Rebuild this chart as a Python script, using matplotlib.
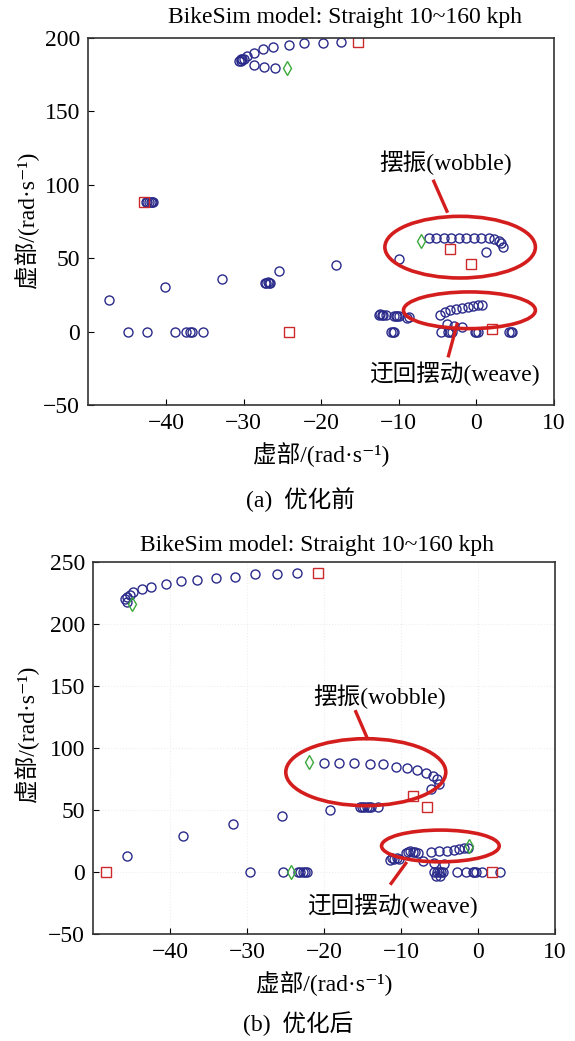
import matplotlib.pyplot as plt
from matplotlib.patches import Ellipse

plt.rcParams["font.family"] = ["Liberation Serif", "Noto Sans CJK SC", "DejaVu Sans"]

# ---------------- (a) before optimisation ----------------
a_circ_x = [-30.6, -30.4, -30.2, -30.0, -29.6, -28.7, -27.5, -26.2, -24.1, -22.2, -19.8, -17.5,
            -30.3, -28.7, -27.4, -26.0,
            -42.6, -42.4, -42.2, -42.0, -41.8, -41.7,
            -47.3, -40.2, -32.8, -27.3, -27.1, -26.9, -26.7, -26.6, -25.5, -18.1,
            -44.9, -42.5, -38.8, -37.4, -36.9, -36.6, -35.3,
            -10.0,
            -6.15, -5.16, -4.22, -3.23, -2.28, -1.29, -0.35, 0.65, 1.59, 2.32, 2.88, 3.19, 3.45, 1.2,
            -4.65, -4.0, -3.35, -2.58, -1.85, -1.12, -0.43, 0.22, 0.74,
            -3.8, -2.9, -1.85,
            -12.6, -12.4, -12.2, -12.0, -11.7, -10.6, -10.4, -10.2, -10.0, -9.0, -8.7,
            -11.0, -10.8, -10.6, -4.6, -3.6, -3.4, -3.2, -0.2, 0.0, 0.2, 4.2, 4.4, 4.6]
a_circ_y = [184.0, 186.0, 185.5, 185.6, 187.9, 190.1, 192.5, 193.6, 195.2, 196.3, 196.8, 197.3,
            184.5, 181.7, 180.3, 179.5,
            88.6, 88.6, 88.6, 88.6, 88.6, 88.6,
            21.2, 30.3, 36.0, 33.0, 33.3, 33.6, 33.3, 33.0, 41.3, 45.6,
            0, 0, 0, 0, 0, 0, 0,
            49.7,
            63.4, 63.4, 63.4, 63.4, 63.4, 63.4, 63.4, 63.4, 63.4, 63.0, 61.8, 60.0, 57.7, 54.3,
            11.0, 13.2, 14.4, 15.5, 16.2, 16.8, 17.3, 17.8, 17.8,
            5.2, 4.1, 3.4,
            11.5, 11.8, 11.2, 11.4, 11.0, 10.5, 10.8, 10.3, 10.6, 9.5, 9.8,
            0, 0, 0, 0, 0, 0, 0, 0, 0, 0, 0, 0, 0]
a_sq_x = [-15.2, -42.8, -24.2, -3.35, -0.7, 2.0]
a_sq_y = [197.3, 88.6, 0, 56.2, 45.9, 1.5]
a_dia_x = [-24.4, -7.2]
a_dia_y = [179.5, 61.8]

# ---------------- (b) after optimisation ----------------
b_circ_x = [-45.9, -45.7, -45.7, -45.3, -44.8, -43.7, -42.5, -40.6, -38.6, -36.6, -34.1, -31.6, -29.0,
            -26.2, -23.6,
            -45.6, -38.4, -31.9, -25.5,
            -29.7, -25.3, -23.4, -23.1, -22.8, -22.5, -22.2,
            -20.0, -18.1, -16.1, -14.1, -12.3, -10.7, -9.2, -7.9, -6.8, -5.9, -5.3, -5.1, -6.1,
            -19.3, -15.4, -15.1, -14.8, -14.5, -14.2, -13.9, -13.0,
            -6.1, -5.1, -4.0, -3.1, -2.5, -1.8, -1.3,
            -9.4, -9.1, -8.8, -8.5, -8.2, -7.8, -11.5, -11.2, -10.9, -10.6, -10.3,
            -7.2, -5.7, -4.4,
            -5.7, -5.4, -5.1, -4.8, -4.5, -5.5, -5.0, -2.7, -1.6, -0.7, -0.5, -0.3, 0.56, 2.9]
b_circ_y = [220.0, 218.0, 222.0, 223.4, 226.1, 228.0, 230.1, 232.3, 234.8, 235.6, 237.0, 238.3, 240.2,
            240.2, 241.0,
            12.7, 28.9, 38.4, 45.1,
            0, 0, 0, 0, 0, 0, 0,
            87.8, 87.8, 87.8, 87.0, 87.0, 84.8, 83.8, 82.2, 80.2, 77.6, 74.9, 71.3, 66.8,
            49.8, 52.4, 52.4, 52.4, 52.4, 52.4, 52.4, 52.4,
            16.0, 16.8, 17.3, 17.8, 18.4, 19.0, 19.4,
            15.5, 16.5, 17.0, 16.5, 16.0, 15.5, 10.0, 11.0, 10.5, 11.0, 10.5,
            8.7, 7.4, 6.1,
            0, 0, 0, 0, 0, -3.0, -3.0, 0, 0, 0, 0, 0, 0, 0]
b_sq_x = [-20.8, -48.4, -8.4, -6.7, 1.85]
b_sq_y = [241.0, 0, 61.3, 52.4, 0]
b_dia_x = [-45.0, -24.3, -22.0, -1.2]
b_dia_y = [216.3, 0, 88.5, 20.8]

# annotation ellipses: (centre x, centre y, width, height)
a_wobble_ell = (-2.1, 57.5, 19.4, 42.0)
a_weave_ell = (-0.9, 14.5, 17.0, 25.0)
b_wobble_ell = (-14.6, 80.5, 20.8, 54.0)
b_weave_ell = (-4.9, 21.0, 15.3, 25.6)

title = "BikeSim model: Straight 10~160 kph"
axis_label = "虚部/(rad·s\u207b\u00b9)"

navy = "#2a2a8a"
red = "#cc2a2a"
green = "#3aa83a"
ell_red = "#d41e1e"

fig = plt.figure(figsize=(5.75, 10.41), dpi=100)
ax_a = fig.add_axes([0.1539, 0.6110, 0.8096, 0.3525])
ax_b = fig.add_axes([0.1626, 0.1028, 0.8026, 0.3573])


def draw(ax, cx, cy, sx, sy, dx, dy, ylim, yticks):
    ax.plot(cx, cy, "o", ls="none", mfc="none", mec=navy, ms=6.5, mew=1.0)
    ax.plot(sx, sy, "s", ls="none", mfc="none", mec=red, ms=6.5, mew=1.0)
    ax.plot(dx, dy, "d", ls="none", mfc="none", mec=green, ms=7, mew=1.0)
    ax.set_xlim(-50, 10)
    ax.set_ylim(*ylim)
    ax.set_xticks([-40, -30, -20, -10, 0, 10])
    ax.set_xticklabels(["\u221240", "\u221230", "\u221220", "\u221210", "0", "10"])
    ax.set_yticks(yticks)
    ax.set_yticklabels([str(t).replace("-", "\u2212") for t in yticks])
    ax.tick_params(direction="in", length=4, labelsize=17, top=False, right=False, pad=6)
    for s in ax.spines.values():
        s.set_linewidth(1.2)
        s.set_color("#333333")
    ax.set_xlabel(axis_label, fontsize=17, labelpad=6)


def ellipse(ax, e):
    ax.add_patch(Ellipse((e[0], e[1]), e[2], e[3], fill=False, ec=ell_red, lw=2.6, zorder=5))


# panel (a)
draw(ax_a, a_circ_x, a_circ_y, a_sq_x, a_sq_y, a_dia_x, a_dia_y, (-50, 200), [-50, 0, 50, 100, 150, 200])
ellipse(ax_a, a_wobble_ell)
ellipse(ax_a, a_weave_ell)
ax_a.plot([-5.5, -3.8], [102.4, 82.0], color=ell_red, lw=2.4, zorder=5)
ax_a.plot([-2.5, -3.6], [5.0, -16.5], color=ell_red, lw=2.4, zorder=5)
ax_a.text(-4.0, 115, "摆振(wobble)", fontsize=17, ha="center", va="center")
ax_a.text(-2.9, -29, "迂回摆动(weave)", fontsize=17, ha="center", va="center")

# panel (b)
draw(ax_b, b_circ_x, b_circ_y, b_sq_x, b_sq_y, b_dia_x, b_dia_y, (-50, 250), [-50, 0, 50, 100, 150, 200, 250])
ax_b.grid(True, color="#eeeeee", lw=0.8, ls=":")
ax_b.set_axisbelow(True)
ellipse(ax_b, b_wobble_ell)
ellipse(ax_b, b_weave_ell)
ax_b.plot([-15.9, -14.4], [129.3, 107.8], color=ell_red, lw=2.4, zorder=5)
ax_b.plot([-9.4, -11.3], [7.0, -9.2], color=ell_red, lw=2.4, zorder=5)
ax_b.text(-12.8, 141, "摆振(wobble)", fontsize=17, ha="center", va="center")
ax_b.text(-11.1, -27, "迂回摆动(weave)", fontsize=17, ha="center", va="center")

# titles, y labels and captions
fig.text(345 / 575, 1 - 18 / 1041, title, fontsize=17, ha="center", va="center")
fig.text(317 / 575, 1 - 545 / 1041, title, fontsize=17, ha="center", va="center")
fig.text(27 / 575, 1 - 220 / 1041, axis_label, fontsize=17, rotation=90, ha="center", va="center")
fig.text(27 / 575, 1 - 734 / 1041, axis_label, fontsize=17, rotation=90, ha="center", va="center")
fig.text(300 / 575, 1 - 500 / 1041, "(a)  优化前", fontsize=17, ha="center", va="center")
fig.text(298 / 575, 1 - 1024 / 1041, "(b)  优化后", fontsize=17, ha="center", va="center")

fig.savefig("out.png", dpi=100)
